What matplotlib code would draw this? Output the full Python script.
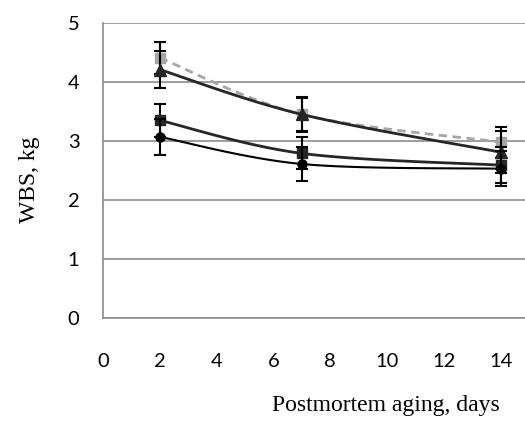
import numpy as np
import matplotlib
matplotlib.use("Agg")
import matplotlib.pyplot as plt

days = [2, 7, 14]
gray_sq = [4.41, 3.45, 2.98]
gray_sq_err = [0.27, 0.28, 0.26]
triangle = [4.21, 3.45, 2.81]
triangle_err = [0.31, 0.30, 0.36]
dark_sq = [3.35, 2.79, 2.59]
dark_sq_err = [0.28, 0.27, 0.30]
circle = [3.07, 2.61, 2.53]
circle_err = [0.30, 0.29, 0.30]

x_ticks = [0, 2, 4, 6, 8, 10, 12, 14]
y_ticks = [0, 1, 2, 3, 4, 5]


def smooth(xs, ys, n=40):
    """Catmull-Rom style smoothing (like Excel's smoothed line)."""
    xs = np.asarray(xs, float)
    ys = np.asarray(ys, float)
    P = np.column_stack([xs, ys])
    P = np.vstack([P[0], P, P[-1]])
    out = []
    for i in range(1, len(P) - 2):
        p0, p1, p2, p3 = P[i - 1], P[i], P[i + 1], P[i + 2]
        c1 = p1 + (p2 - p0) / 6.0
        c2 = p2 - (p3 - p1) / 6.0
        t = np.linspace(0, 1, n)[:, None]
        seg = ((1 - t) ** 3) * p1 + 3 * ((1 - t) ** 2) * t * c1 + 3 * (1 - t) * t ** 2 * c2 + t ** 3 * p2
        out.append(seg if i == 1 else seg[1:])
    out = np.vstack(out)
    return out[:, 0], out[:, 1]


fig = plt.figure(figsize=(5.25, 4.22), dpi=100)
ax = fig.add_axes([103 / 525, 1 - 318 / 422, (525 - 103) / 525, (318 - 23) / 422])

series = [
    (gray_sq, gray_sq_err, "s", "#A6A6A6", "--", 2.0, 7),
    (triangle, triangle_err, "^", "#262626", "-", 2.0, 8.5),
    (dark_sq, dark_sq_err, "s", "#262626", "-", 2.0, 6.5),
    (circle, circle_err, "o", "#000000", "-", 1.5, 6.5),
]
for i, (vals, err, mk, col, ls, lw, ms) in enumerate(series):
    sx, sy = smooth(days, vals)
    ax.plot(sx, sy, color=col, ls=ls, lw=lw, zorder=3 + i,
            dashes=(3, 2) if ls == "--" else (None, None))
    ax.errorbar(days, vals, yerr=err, fmt="none", ecolor="black",
                elinewidth=1.5, capsize=4.5, capthick=1.5, zorder=3 + i)
    ax.plot(days, vals, ls="none", marker=mk, color=col, ms=ms, zorder=3.5 + i)

ax.set_xlim(0, 14.85)
ax.set_ylim(0, 5)
ax.set_xticks(x_ticks)
ax.set_yticks(y_ticks)
ax.grid(axis="y", color="#8C8C8C", lw=1.2)
ax.set_axisbelow(True)
for s in ["top", "right"]:
    ax.spines[s].set_visible(False)
for s in ["left", "bottom"]:
    ax.spines[s].set_color("#8C8C8C")
    ax.spines[s].set_linewidth(1.2)
ax.tick_params(length=0, labelsize=14.5)
ax.tick_params(axis="x", pad=25)
ax.tick_params(axis="y", pad=17)
for lab in ax.get_xticklabels() + ax.get_yticklabels():
    lab.set_fontfamily("Lato")

fig.text(386 / 525, 1 - 405 / 422, "Postmortem aging, days", ha="center", va="center",
         fontsize=17, family="Liberation Serif")
fig.text(29 / 525, 1 - 180 / 422, "WBS, kg", ha="center", va="center", rotation=90,
         fontsize=17, family="Liberation Serif")

fig.savefig("out.png", dpi=100)
